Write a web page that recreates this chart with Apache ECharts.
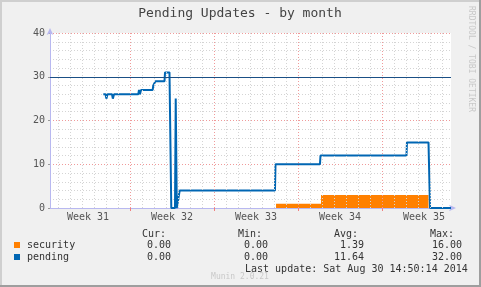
<!DOCTYPE html>
<html>
<head>
<meta charset="utf-8">
<script src="https://cdn.jsdelivr.net/npm/echarts@6/dist/echarts.min.js"></script>
<style>
html,body{margin:0;padding:0;background:#f0f0f0;}
#chart{width:481px;height:287px;}
</style>
</head>
<body>
<div id="chart"></div>
<script>
// time in days since Monday of week 31
const pendingDays   = [4.775, 4.96, 5.03, 5.125, 5.5, 5.57, 5.67, 7.69, 7.75, 7.83, 7.92, 8.89, 8.94, 9.08, 9.125, 9.875, 9.92, 10.29, 10.44, 10.75, 10.81, 10.9, 11.02, 11.14, 19.08, 19.125, 22.83, 22.875, 30.04, 30.08, 31.875, 32.0, 33.75];
const pendingValues = [26, 26, 25, 26, 26, 25, 26, 26, 27, 26, 27, 27, 28, 28, 29, 29, 31, 31, 0, 0, 25, 0, 0, 4, 4, 10, 10, 12, 12, 15, 15, 0, 0];
const securityDays   = [19.17, 22.92, 31.875];
const securityValues = [1, 3, 0];
const warningLevel = 30;
const weekLabels = ['Week 31', 'Week 32', 'Week 33', 'Week 34', 'Week 35'];
const weekCenters = [3.5, 10.5, 17.5, 24.5, 31.5];
const weekBounds = [7, 14, 21, 28];
const dayLines = [];
for (let d = 1; d <= 33; d++) if (d % 7 !== 0) dayLines.push(d);
const legendNames = ['security', 'pending'];
const curVals = ['0.00', '0.00'];
const minVals = ['0.00', '0.00'];
const avgVals = ['1.39', '11.64'];
const maxVals = ['16.00', '32.00'];
const colors = ['#ff8000', '#0066b3'];

const FONT = '"DejaVu Sans Mono", monospace';
const chart = echarts.init(document.getElementById('chart'), null, {renderer: 'canvas'});

function txt(x, y, text, opt) {
  opt = opt || {};
  return {
    type: 'text', x: x, y: y, rotation: opt.rotation || 0, silent: true,
    style: {
      text: text, fill: opt.color || '#333', font: (opt.size || 10) + 'px ' + FONT,
      textAlign: opt.align || 'left', textVerticalAlign: 'middle'
    }
  };
}

const graphics = [
  {type: 'rect', shape: {x: 0, y: 0, width: 481, height: 287}, style: {fill: '#f0f0f0'}, silent: true, z: -10},
  {type: 'rect', shape: {x: 0, y: 0, width: 481, height: 2}, style: {fill: '#cfcfcf'}, silent: true},
  {type: 'rect', shape: {x: 0, y: 0, width: 2, height: 287}, style: {fill: '#cfcfcf'}, silent: true},
  {type: 'rect', shape: {x: 479, y: 0, width: 2, height: 287}, style: {fill: '#9e9e9e'}, silent: true},
  {type: 'rect', shape: {x: 0, y: 285, width: 481, height: 2}, style: {fill: '#9e9e9e'}, silent: true},
  txt(240, 14, 'Pending Updates - by month', {size: 13, align: 'center', color: '#444'}),
  txt(471, 59, 'RRDTOOL / TOBI OETIKER', {size: 8, align: 'center', color: '#c8c8c8', rotation: -Math.PI / 2}),
  txt(142, 234, 'Cur:'),
  txt(238, 234, 'Min:'),
  txt(334, 234, 'Avg:'),
  txt(430, 234, 'Max:'),
  txt(245, 269, 'Last update: Sat Aug 30 14:50:14 2014'),
  txt(240, 277, 'Munin 2.0.21', {size: 8, align: 'center', color: '#c8c8c8'})
];
legendNames.forEach(function (name, i) {
  const y = 245 + i * 12;
  graphics.push({type: 'rect', shape: {x: 14, y: y - 3, width: 6, height: 6}, style: {fill: colors[i]}, silent: true});
  graphics.push(txt(27, y, name));
  graphics.push(txt(171, y, curVals[i], {align: 'right'}));
  graphics.push(txt(268, y, minVals[i], {align: 'right'}));
  graphics.push(txt(364, y, avgVals[i], {align: 'right'}));
  graphics.push(txt(462, y, maxVals[i], {align: 'right'}));
});

const gridLineData = dayLines.map(function (d) {
  return {xAxis: d, lineStyle: {color: '#d4d4d4', type: [1, 2], width: 1}};
}).concat(weekBounds.map(function (d) {
  return {xAxis: d, lineStyle: {color: '#f09a9a', type: [1, 2], width: 1}};
}));

chart.setOption({
  animation: false,
  backgroundColor: '#f0f0f0',
  textStyle: {fontFamily: FONT},
  grid: {left: 50, right: 30, top: 33, bottom: 79, show: true, backgroundColor: '#ffffff', borderWidth: 0},
  xAxis: {
    type: 'value', min: 0.333, max: 33.75,
    axisLine: {show: true, lineStyle: {color: '#b8b8f0', width: 1}, symbol: ['none', 'arrow'], symbolSize: [5, 7], symbolOffset: [0, 5]},
    axisTick: {show: true, customValues: weekBounds, length: 3, lineStyle: {color: '#f08080'}},
    axisLabel: {
      customValues: weekCenters, color: '#555', fontSize: 10, fontFamily: FONT, margin: 4,
      formatter: function (v) { return weekLabels[weekCenters.indexOf(v)] || ''; }
    },
    splitLine: {show: false}
  },
  yAxis: {
    type: 'value', min: 0, max: 40, interval: 10,
    axisLine: {show: true, lineStyle: {color: '#b8b8f0', width: 1}, symbol: ['none', 'arrow'], symbolSize: [5, 7], symbolOffset: [0, 5]},
    axisTick: {show: true, length: 2, lineStyle: {color: '#999'}},
    axisLabel: {color: '#555', fontSize: 10, fontFamily: FONT, margin: 5},
    splitLine: {show: true, lineStyle: {color: '#f09a9a', type: [1, 2], width: 1}},
    minorTick: {show: false, splitNumber: 5},
    minorSplitLine: {show: true, lineStyle: {color: '#d4d4d4', type: [1, 2], width: 1}}
  },
  series: [
    {
      name: 'grid', type: 'line', data: [], z: 1, silent: true,
      markLine: {silent: true, symbol: 'none', label: {show: false}, animation: false, data: gridLineData}
    },
    {
      name: 'security', type: 'line', step: 'end', z: 2, symbol: 'none',
      data: securityDays.map(function (d, i) { return [d, securityValues[i]]; }),
      lineStyle: {width: 0}, areaStyle: {color: colors[0], opacity: 1}, itemStyle: {color: colors[0]}
    },
    {
      name: 'pending', type: 'line', z: 3, symbol: 'none',
      data: pendingDays.map(function (d, i) { return [d, pendingValues[i]]; }),
      lineStyle: {width: 2, color: colors[1]}, itemStyle: {color: colors[1]},
      markLine: {
        silent: true, symbol: 'none', label: {show: false}, animation: false,
        lineStyle: {color: '#1a4f85', width: 1, type: 'solid'},
        data: [{yAxis: warningLevel}]
      }
    }
  ],
  graphic: graphics
});
</script>
</body>
</html>
